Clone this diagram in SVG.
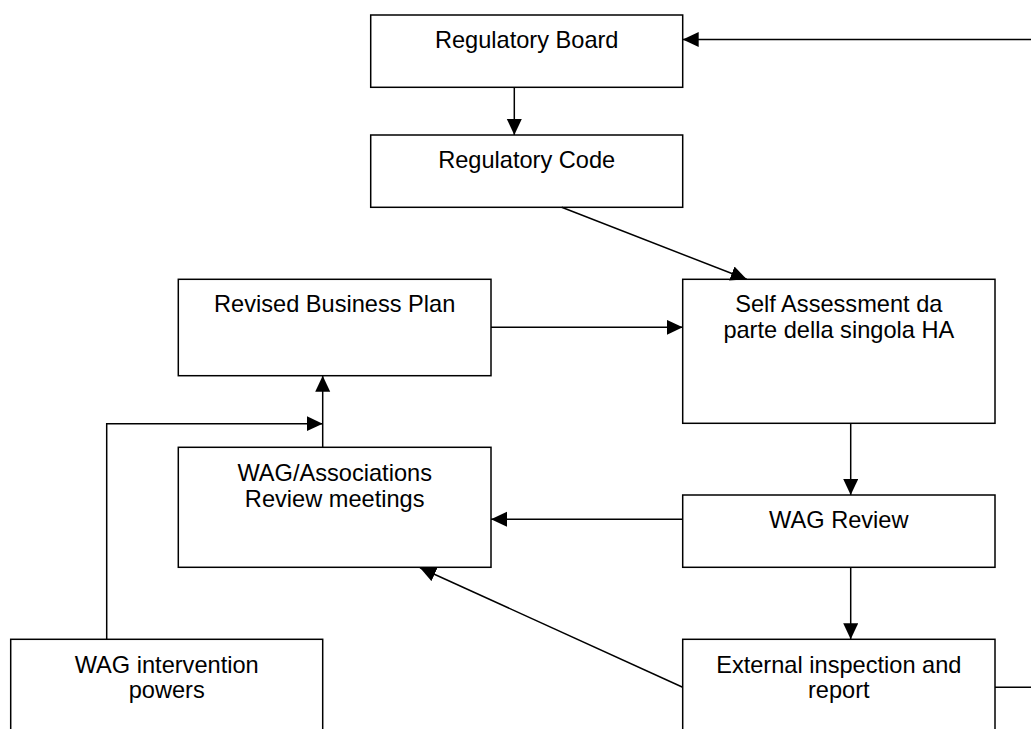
<svg xmlns="http://www.w3.org/2000/svg" width="1031" height="729" viewBox="0 0 1031 729">
<style>
.box{fill:#fff;stroke:#000;stroke-width:1.5}
.lbl{font-family:"Liberation Sans",Arial,sans-serif;font-size:23.6px;fill:#000;text-anchor:middle}
.con{fill:none;stroke:#000;stroke-width:1.5}
</style>
<defs>
<marker id="arr" markerUnits="userSpaceOnUse" markerWidth="17" markerHeight="16" refX="16" refY="7.5" orient="auto">
<path d="M0,0 L16,7.5 L0,15 z" fill="#000"/>
</marker>
</defs>
<rect width="1031" height="729" fill="#fff"/>
<g id="regulatory-board"><rect class="box" x="370.7" y="15" width="312" height="72.3"/><text class="lbl" x="526.7" y="48.3">Regulatory Board</text></g>
<g id="regulatory-code"><rect class="box" x="370.7" y="135" width="312" height="72.3"/><text class="lbl" x="526.7" y="167.7">Regulatory Code</text></g>
<g id="revised-business-plan"><rect class="box" x="178.3" y="279.3" width="312.7" height="96.4"/><text class="lbl" x="334.7" y="312.3">Revised Business Plan</text></g>
<g id="self-assessment"><rect class="box" x="682.7" y="279.3" width="312.3" height="144"/><text class="lbl" x="838.8" y="311.7">Self Assessment da</text><text class="lbl" x="838.8" y="338.3">parte della singola HA</text></g>
<g id="wag-associations"><rect class="box" x="178.3" y="447.3" width="312.7" height="120"/><text class="lbl" x="334.7" y="480.7">WAG/Associations</text><text class="lbl" x="334.7" y="506.7">Review meetings</text></g>
<g id="wag-review"><rect class="box" x="682.7" y="495" width="312.3" height="72.3"/><text class="lbl" x="838.8" y="528.3">WAG Review</text></g>
<g id="wag-intervention"><rect class="box" x="10.7" y="639.3" width="312" height="130"/><text class="lbl" x="166.7" y="672.7">WAG intervention</text><text class="lbl" x="166.7" y="698">powers</text></g>
<g id="external-inspection"><rect class="box" x="682.7" y="639.3" width="312.3" height="130"/><text class="lbl" x="838.8" y="672.7">External inspection and</text><text class="lbl" x="838.8" y="698.3">report</text></g>
<g id="connectors">
<line class="con" x1="514.3" y1="87.3" x2="514.3" y2="135" marker-end="url(#arr)"/>
<line class="con" x1="1031" y1="39.5" x2="682.7" y2="39.5" marker-end="url(#arr)"/>
<line class="con" x1="561.7" y1="207.3" x2="746.7" y2="279.3" marker-end="url(#arr)"/>
<line class="con" x1="491" y1="327.3" x2="682.7" y2="327.3" marker-end="url(#arr)"/>
<line class="con" x1="850.7" y1="423.3" x2="850.7" y2="495" marker-end="url(#arr)"/>
<line class="con" x1="682.7" y1="519.3" x2="491" y2="519.3" marker-end="url(#arr)"/>
<line class="con" x1="850.7" y1="567.3" x2="850.7" y2="639.3" marker-end="url(#arr)"/>
<line class="con" x1="682.7" y1="687.3" x2="420" y2="567.7" marker-end="url(#arr)"/>
<line class="con" x1="322.7" y1="447.3" x2="322.7" y2="375.7" marker-end="url(#arr)"/>
<polyline class="con" points="106.7,639.3 106.7,423.7 322.7,423.7" marker-end="url(#arr)"/>
<line class="con" x1="995" y1="687.3" x2="1031" y2="687.3"/>
</g>
</svg>
